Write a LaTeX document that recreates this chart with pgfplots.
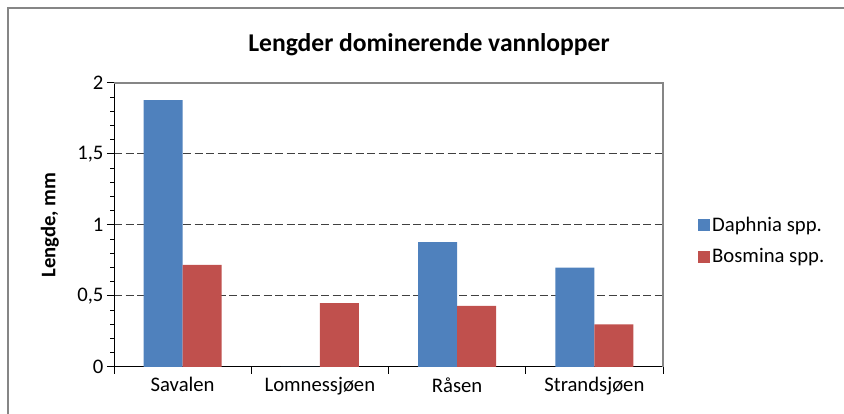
\documentclass[border=0pt]{standalone}
\usepackage{fontspec}
\setmainfont{Carlito}
\usepackage{pgfplots}
\pgfplotsset{compat=1.18}

\definecolor{daphnia}{HTML}{4F81BD}
\definecolor{bosmina}{HTML}{C0504D}
\definecolor{framegray}{HTML}{868686}

\begin{document}
\begin{tikzpicture}
\useasboundingbox (0,0) rectangle (844pt,414pt);
% outer chart frame (only top and left edges are inside the picture)
\draw[framegray, line width=2pt] (8pt,-2pt) -- (8pt,405.5pt) -- (846pt,405.5pt);
\node[font=\fontsize{25.6}{30}\selectfont\bfseries] at (429pt,369pt) {Lengder dominerende vannlopper};
\begin{axis}[
  at={(114pt,47pt)}, anchor=south west,
  width=549pt, height=284pt, scale only axis,
  clip=false,
  ybar=0pt, bar width=39pt,
  xmin=-0.5, xmax=3.5, ymin=0, ymax=2,
  xtick={-0.5,0.5,1.5,2.5,3.5},
  x tick label as interval,
  xticklabels={Savalen,Lomnessjøen,Råsen,Strandsjøen},
  ytick={0,0.5,1,1.5,2},
  minor y tick num=4,
  tick align=outside,
  major tick length=7pt, minor tick length=4pt,
  ymajorgrids,
  major grid style={black!75, dash pattern=on 8pt off 3.5pt, line width=1pt},
  axis x line*=bottom, axis y line*=left,
  axis line style={black, line width=1pt, -},
  tick style={black, line width=1pt},
  /pgf/number format/use comma,
  /pgf/number format/assume math mode=true,
  ticklabel style={font=\fontsize{20.7}{24}\selectfont},
  ylabel={Lengde, mm},
  every axis y label/.style={at={(axis description cs:-0.1166,0.5)}, rotate=90, anchor=center,
    font=\fontsize{20.7}{24}\selectfont\bfseries},
  legend style={at={(axis description cs:1.0638,0.445)}, anchor=west, draw=none, fill=none,
    font=\fontsize{20.7}{24}\selectfont, row sep=12pt, inner sep=0pt},
  legend cell align=left,
  legend image code/.code={\draw[#1, draw=none] (0pt,-6pt) rectangle (12pt,6pt);},
]
\addplot[fill=daphnia, draw=none] coordinates {(0,1.88) (1,0) (2,0.88) (3,0.70)};
\addplot[fill=bosmina, draw=none] coordinates {(0,0.72) (1,0.45) (2,0.43) (3,0.30)};
\legend{Daphnia spp., Bosmina spp.}
\draw[framegray, line width=1.5pt] (rel axis cs:0,1) -- (rel axis cs:1,1) -- (rel axis cs:1,0);
\end{axis}
\end{tikzpicture}
\end{document}
